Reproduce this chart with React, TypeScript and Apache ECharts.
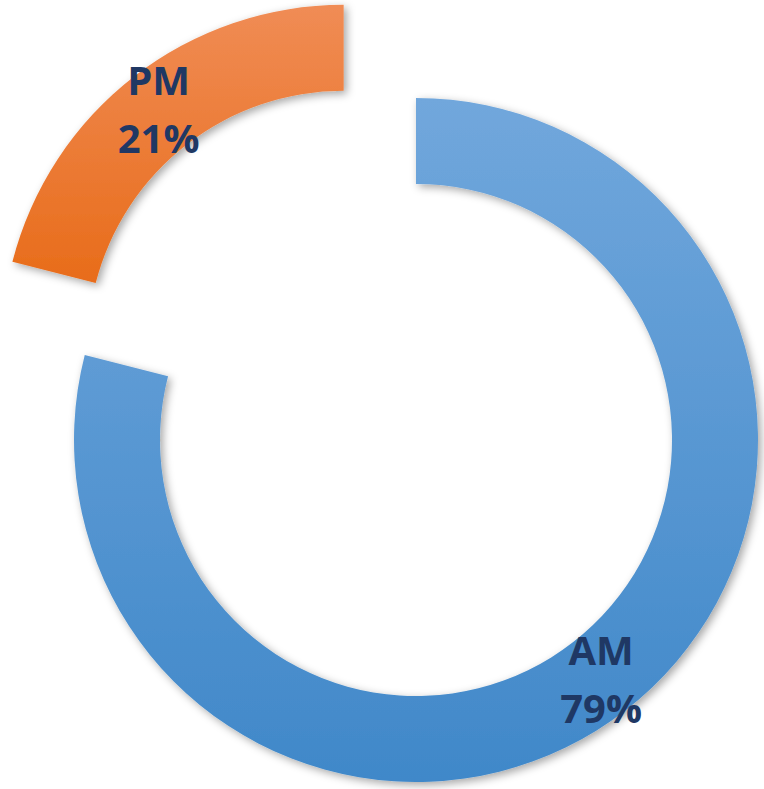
import React, { useEffect, useRef } from "react";
import * as echarts from "echarts";

const categories = ["AM", "PM"];
const values = [79, 21];
const explodedCategory = "PM";

export default function App() {
  const ref = useRef<HTMLDivElement>(null);
  useEffect(() => {
    if (!ref.current) return;
    const chart = echarts.init(ref.current, null, { renderer: "svg" });
    const colors = [
      new echarts.graphic.LinearGradient(0, 0, 0, 1, [
        { offset: 0, color: "#71a7dc" },
        { offset: 1, color: "#4088c9" },
      ]),
      new echarts.graphic.LinearGradient(0, 0, 0, 1, [
        { offset: 0, color: "#f08c55" },
        { offset: 1, color: "#e86c1a" },
      ]),
    ];
    chart.setOption({
      animation: false,
      series: [
        {
          type: "pie",
          center: [416, 440],
          radius: [256, 342],
          startAngle: 90,
          clockwise: true,
          selectedMode: "single",
          selectedOffset: 118,
          percentPrecision: 0,
          avoidLabelOverlap: false,
          label: {
            show: true,
            position: "inside",
            formatter: "{b}\n{d}%",
            color: "#1f3864",
            fontFamily: "Open Sans",
            fontWeight: "bold",
            fontSize: 40,
            lineHeight: 58,
          },
          labelLine: { show: false },
          emphasis: { disabled: true },
          select: { itemStyle: {} },
          itemStyle: {
            shadowBlur: 8,
            shadowOffsetX: 3,
            shadowOffsetY: 3,
            shadowColor: "rgba(0,0,0,0.35)",
          },
          data: categories.map((c, i) => ({
            name: c,
            value: values[i],
            selected: c === explodedCategory,
            itemStyle: { color: colors[i] },
          })),
        },
      ],
    });
    return () => chart.dispose();
  }, []);
  return (
    <div
      ref={ref}
      style={{ position: "absolute", left: 0, top: 0, width: 764, height: 789, background: "#fff" }}
    />
  );
}
